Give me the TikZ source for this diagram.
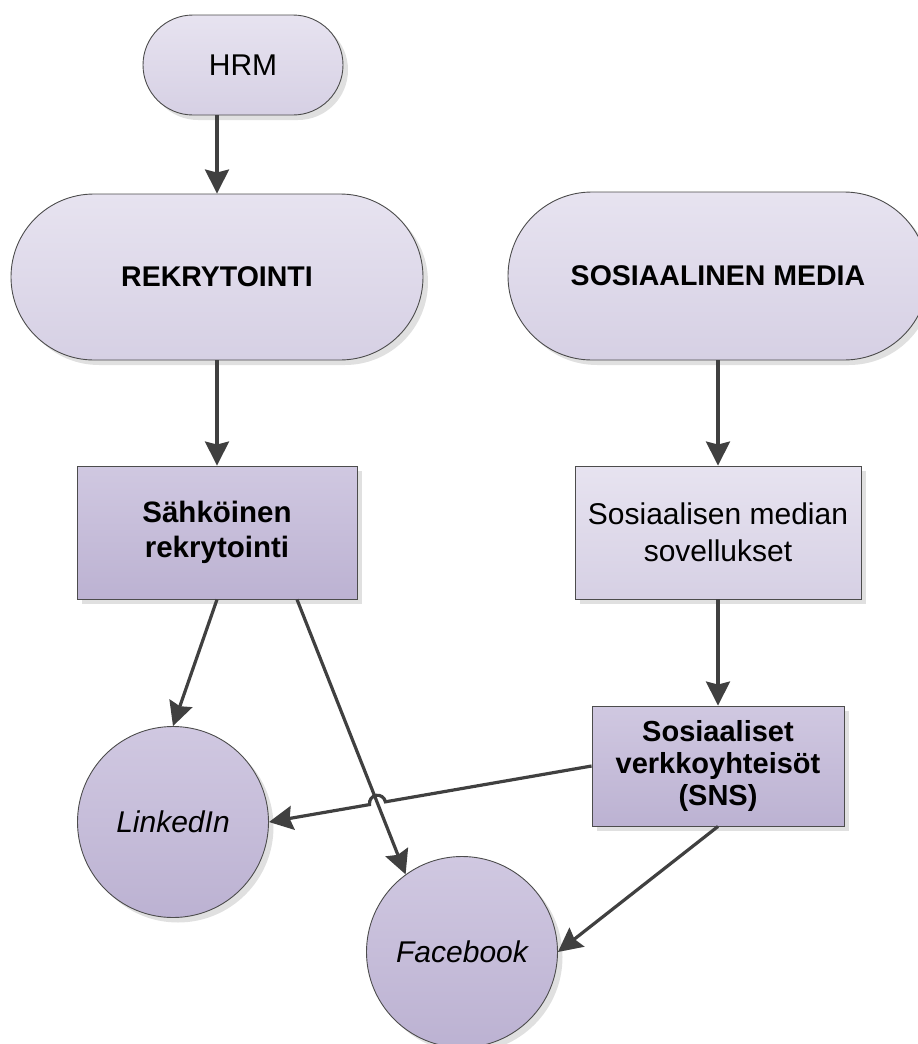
\documentclass[tikz,border=0pt]{standalone}
\usepackage{fontspec}
\setmainfont{Liberation Sans}
\usetikzlibrary{arrows.meta,positioning,calc,shadows}
\definecolor{paletop}{HTML}{E7E3F0}
\definecolor{palebot}{HTML}{D6D0E4}
\definecolor{deeptop}{HTML}{D0C8E1}
\definecolor{deepbot}{HTML}{BCB2D2}
\definecolor{linegray}{HTML}{404040}

\begin{document}
\begin{tikzpicture}[
  x=1pt, y=1pt,
  arr/.style={-{Stealth[length=24pt,width=24pt,inset=3pt]}, line width=3.2pt, draw=linegray},
  base/.style={draw=black!70, line width=0.9pt, inner sep=0pt, align=center,
               font=\fontsize{30}{35}\selectfont,
               drop shadow={shadow xshift=5pt, shadow yshift=-5pt, fill=black!12, opacity=1}},
  pale/.style={base, top color=paletop, bottom color=palebot},
  deep/.style={base, top color=deeptop, bottom color=deepbot},
  pill/.style={pale, rectangle, rounded corners=#1},
  box/.style={rectangle},
  disc/.style={deep, circle, minimum size=191pt, font=\fontsize{30}{35}\selectfont\itshape}]

\useasboundingbox (0,0) rectangle (918,-1044);

% ---- left column ---------------------------------------------------------
\node[pill=50pt, minimum width=200pt, minimum height=100pt] (hrm) at (243,-65) {HRM};
\node[pill=83pt, minimum width=412pt, minimum height=166pt, font=\fontsize{28.5}{34}\selectfont\bfseries]
     (rek) at (217,-277) {REKRYTOINTI};
\node[deep, box, minimum width=280pt, minimum height=133pt, font=\fontsize{29.5}{35}\selectfont\bfseries]
     (sah) at (217,-532.5) {Sähköinen\\rekrytointi};

% ---- right column --------------------------------------------------------
\node[pill=84pt, minimum width=420pt, minimum height=168pt, font=\fontsize{28.5}{34}\selectfont\bfseries]
     (som) at (718,-276) {SOSIAALINEN MEDIA};
\node[pale, box, minimum width=286pt, minimum height=133pt, font=\fontsize{30}{37}\selectfont]
     (sov) at (718,-532.5) {Sosiaalisen median\\sovellukset};
\node[deep, box, minimum width=252pt, minimum height=120pt, font=\fontsize{29}{32}\selectfont\bfseries]
     (sns) at (718,-766) {Sosiaaliset\\verkkoyhteisöt\\(SNS)};

% ---- the two services ----------------------------------------------------
\node[disc] (lin) at (173,-822) {LinkedIn};
\node[disc] (fb)  at (462,-952) {Facebook};

% ---- connectors ----------------------------------------------------------
\draw[arr] (hrm.south -| rek.north) -- (rek.north);
\draw[arr] (rek.south) -- (sah.north);
\draw[arr] (som.south) -- (sov.north);
\draw[arr] (sov.south) -- (sns.north);
\draw[arr] (sah.south) -- (lin.north);

\coordinate (sahR) at ($(sah.south)+(80,0)$);
\draw[arr] (sahR) -- (fb.126);
\draw[arr] (sns.south) -- (fb.east);

% the SNS line hops over the Facebook line
\coordinate (X) at (intersection of sns.west--lin.east and sahR--fb.126);
\draw[arr] let \p1=($(sns.west)-(lin.east)$), \n1={atan2(\y1,\x1)} in
  (sns.west) -- ($(X)!8pt!(sns.west)$)
  arc[start angle=\n1, delta angle=180, radius=8pt] -- (lin.east);

\end{tikzpicture}
\end{document}
